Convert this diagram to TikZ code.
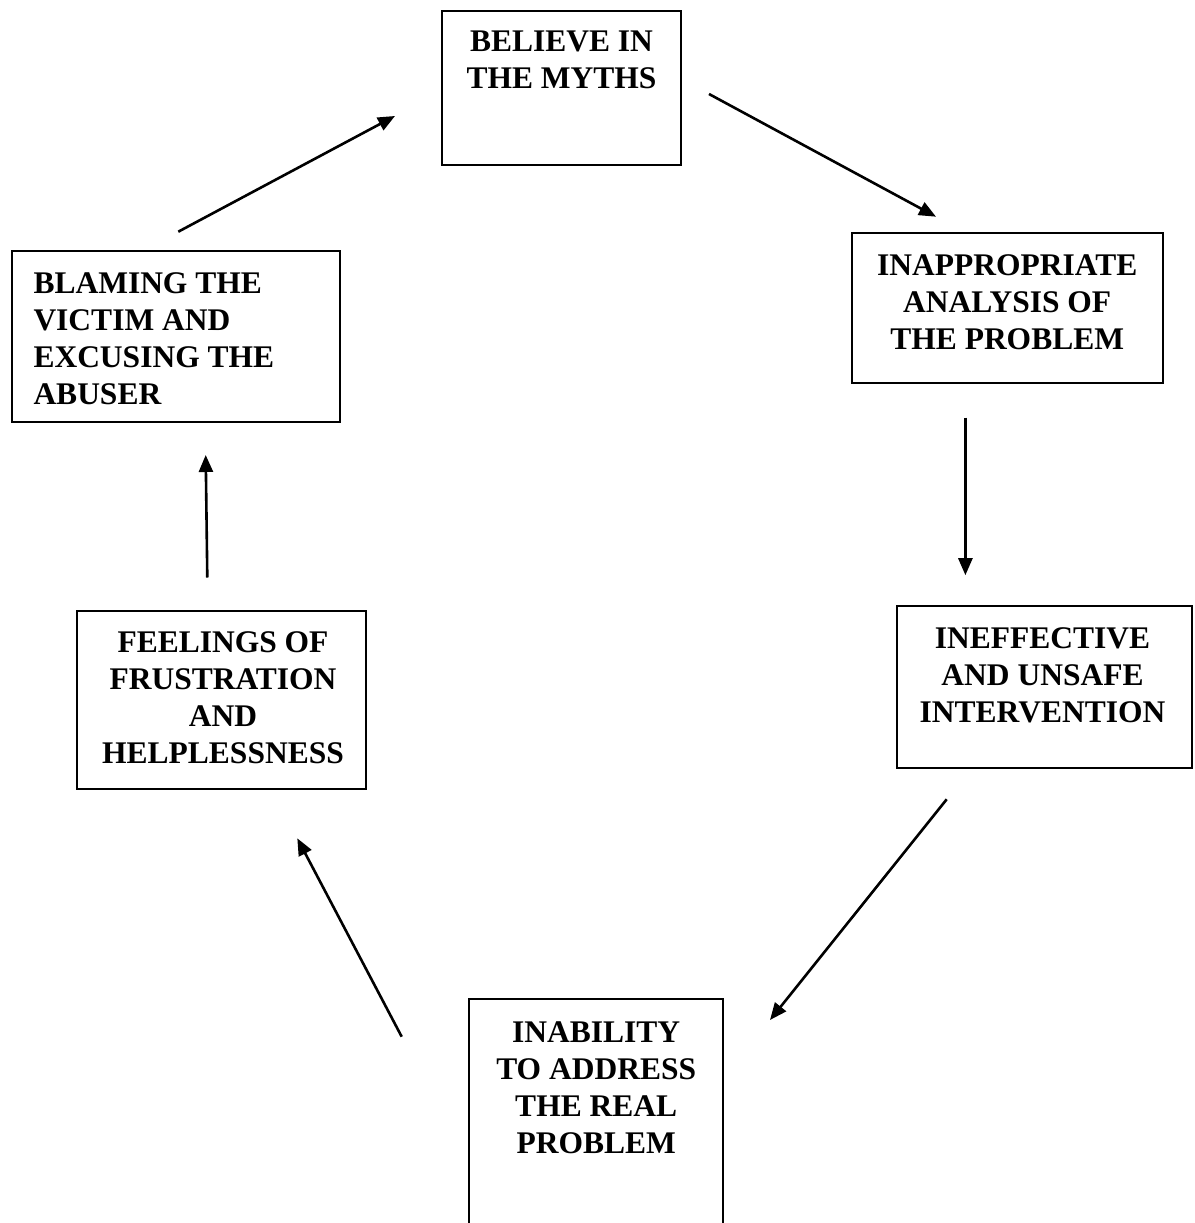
\documentclass[tikz,border=0pt]{standalone}
\usepackage{fontspec}
\setmainfont{Liberation Serif}
\usetikzlibrary{arrows.meta}
\begin{document}
\begin{tikzpicture}[x=1pt,y=-1pt,
  frame/.style={draw, line width=2pt, inner sep=0pt},
  boxtext/.style={font=\bfseries\fontsize{31.5}{37}\selectfont, align=center, inner sep=0pt, anchor=north},
  flow/.style={line width=2.6pt, -{Triangle[length=17pt,width=14pt]}}]
  \clip (0,0) rectangle (1194,1223);
  \fill[white] (0,0) rectangle (1194,1223);

  % frames of the six stages
  \node[frame, minimum width=239pt, minimum height=153.4pt] (myths) at (561.5,88) {};
  \node[frame, minimum width=311pt, minimum height=149.4pt] (analysis) at (1007.2,308) {};
  \node[frame, minimum width=294.4pt, minimum height=162pt] (intervention) at (1044.5,686.7) {};
  \node[frame, minimum width=254.3pt, minimum height=236pt] (inability) at (596.2,1117) {};
  \node[frame, minimum width=288.4pt, minimum height=178.3pt] (feelings) at (221.5,700.2) {};
  \node[frame, minimum width=328pt, minimum height=171pt] (blaming) at (176,336.2) {};

  % stage texts
  \node[boxtext] (mythsT) at (561.5,31) {BELIEVE IN\\THE MYTHS};
  \node[boxtext] (analysisT) at (1007.2,254.5) {INAPPROPRIATE\\ANALYSIS OF\\THE PROBLEM};
  \node[boxtext] (interventionT) at (1042.5,627) {INEFFECTIVE\\AND UNSAFE\\INTERVENTION};
  \node[boxtext] (inabilityT) at (596.2,1021) {INABILITY\\TO ADDRESS\\THE REAL\\PROBLEM};
  \node[boxtext] (feelingsT) at (223,631) {FEELINGS OF\\FRUSTRATION\\AND\\HELPLESSNESS};
  \node[boxtext, align=left, anchor=north west] (blamingT) at (33.3,272.5) {BLAMING THE\\VICTIM AND\\EXCUSING THE\\ABUSER};

  % arrow end points around the cycle
  \coordinate (a1s) at (709,94);      \coordinate (a1e) at (936,216.7);
  \coordinate (a2s) at (965.4,417.5); \coordinate (a2e) at (965.4,575.2);
  \coordinate (a3s) at (946.7,799.3); \coordinate (a3e) at (770,1020);
  \coordinate (a4s) at (401.7,1036.7);\coordinate (a4e) at (297.3,838.3);
  \coordinate (a5s) at (207.3,577.5); \coordinate (a5e) at (205.7,455);
  \coordinate (a6s) at (178.3,231.7); \coordinate (a6e) at (395,116);

  \draw[flow] (a1s) -- (a1e);
  \draw[flow] (a2s) -- (a2e);
  \draw[flow] (a3s) -- (a3e);
  \draw[flow] (a4s) -- (a4e);
  \draw[flow] (a5s) -- (a5e);
  \draw[flow] (a6s) -- (a6e);
\end{tikzpicture}
\end{document}
